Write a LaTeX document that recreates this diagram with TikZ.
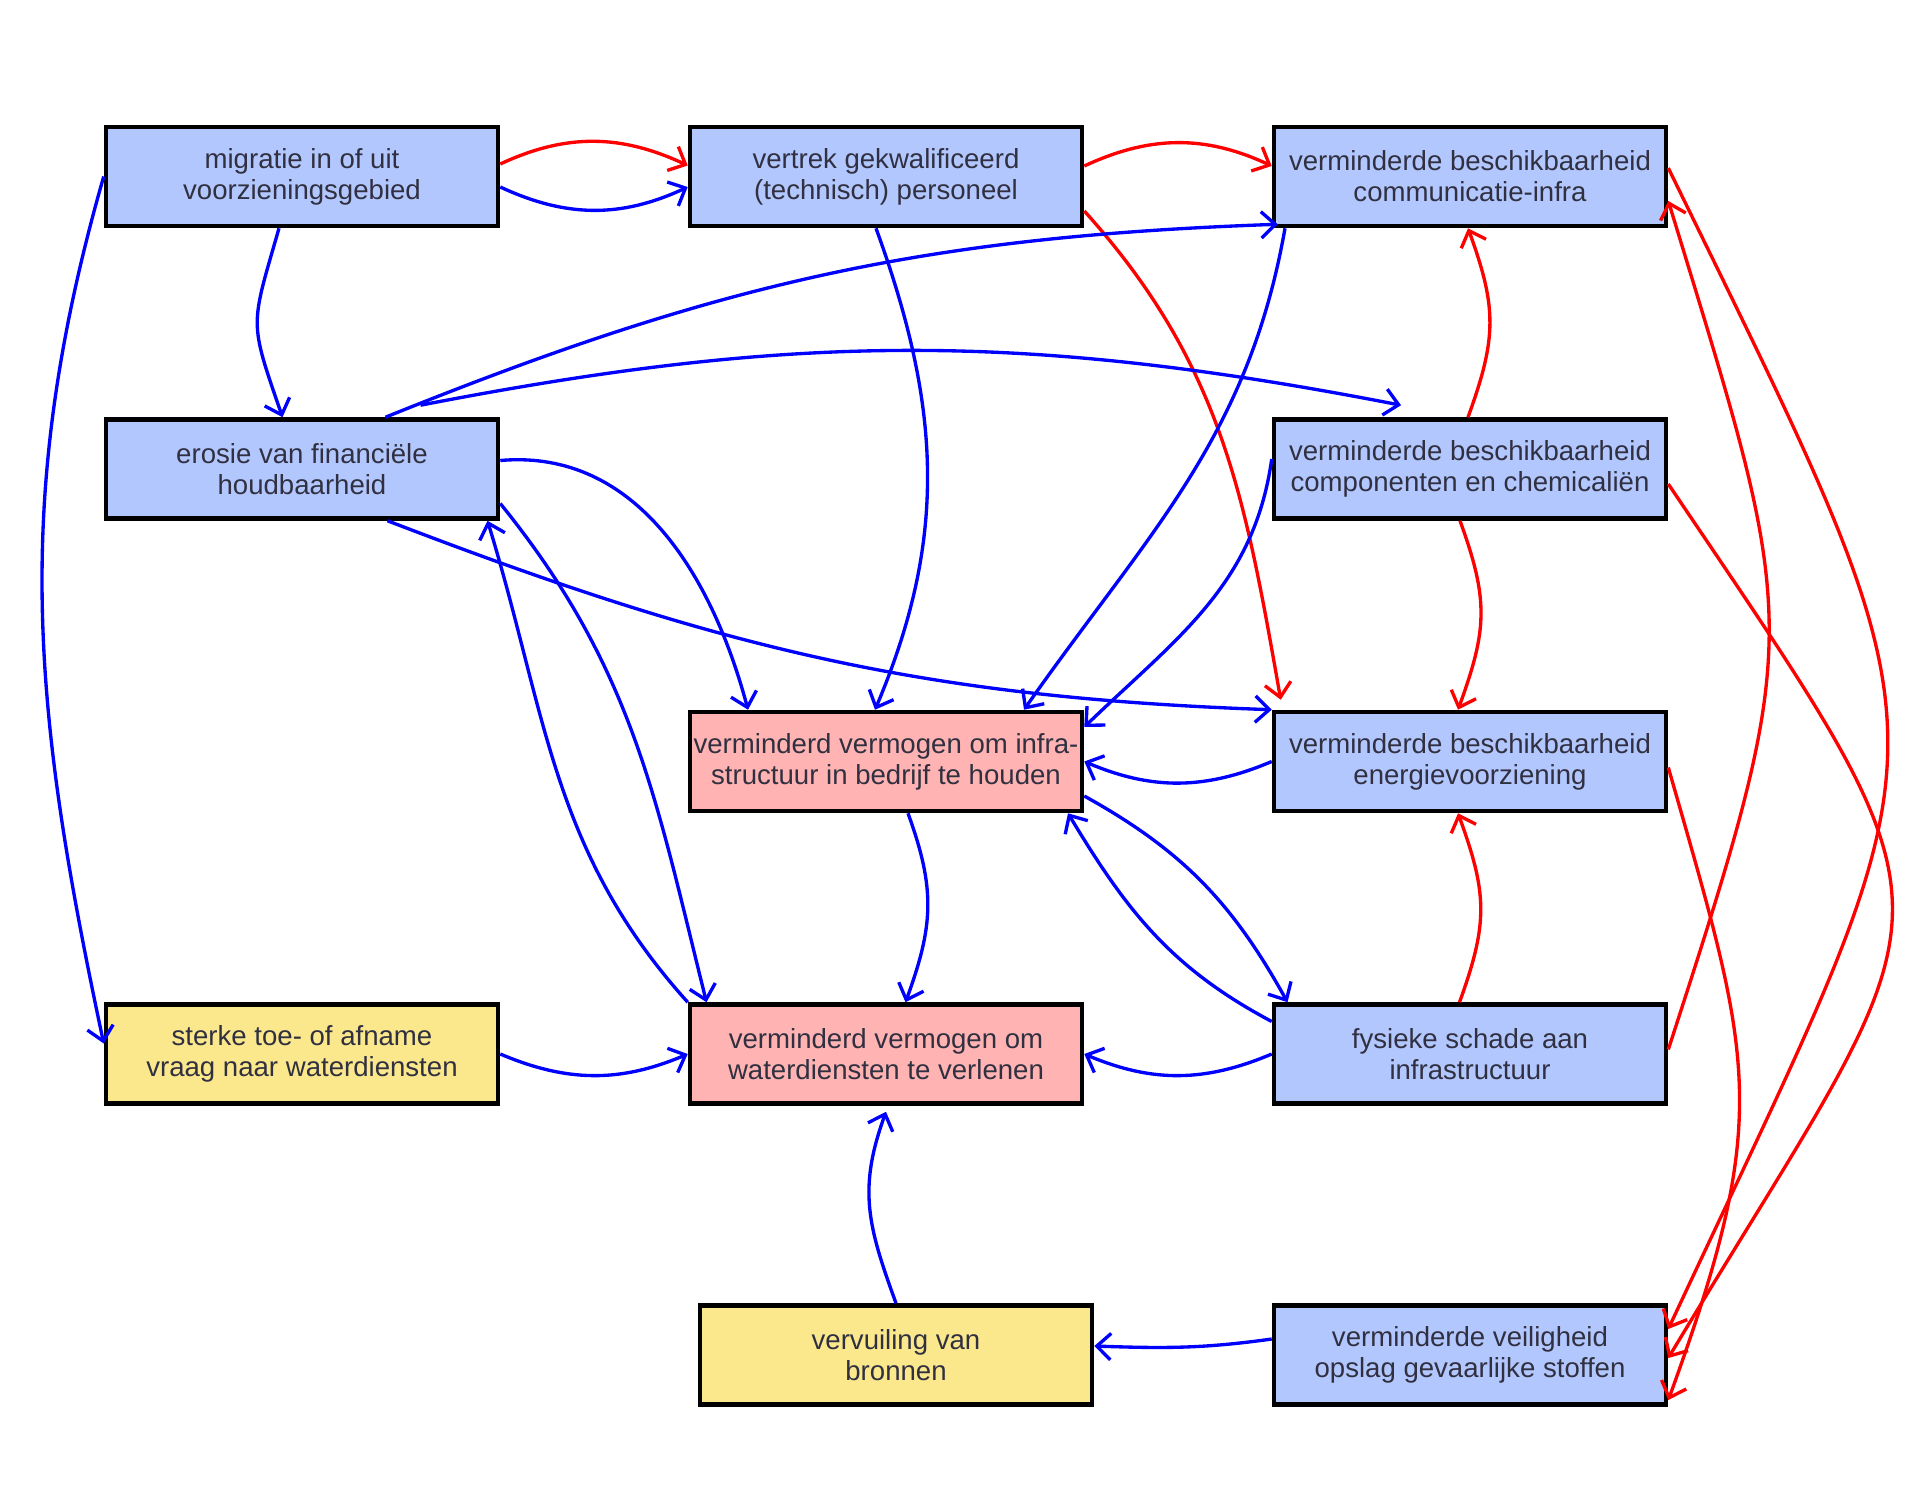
\documentclass[tikz,border=0pt]{standalone}
\usepackage{fontspec}
\setmainfont{Liberation Sans}
\usetikzlibrary{arrows.meta}
\definecolor{txtgray}{RGB}{48,48,64}
\definecolor{boxblue}{RGB}{179,199,255}
\definecolor{boxpink}{RGB}{255,179,179}
\definecolor{boxyellow}{RGB}{251,232,140}
\begin{document}
\begin{tikzpicture}[node distance=5.85cm,
    >={Straight Barb[length=8pt,width=15pt]},
    blok/.style={draw, rectangle, line width=2.6pt, minimum width=7.84cm, minimum height=1.98cm, inner sep=1pt, align=center, text=txtgray, font=\fontsize{15.7}{17.6}\selectfont},
    blauw/.style={blok, fill=boxblue},
    roze/.style={blok, fill=boxpink},
    geel/.style={blok, fill=boxyellow},
    redlink/.style={->, red, line width=1.9pt},
    bluelink/.style={->, blue, line width=1.9pt}]
        \useasboundingbox (0,0) rectangle (38.6,-29.94);
        \node[blauw] (mig) at (6.04,-3.53) {migratie in of uit\\voorzieningsgebied};
        \node[blauw, right of=mig, xshift=5.83cm] (vert) {vertrek gekwalificeerd\\(technisch) personeel};
        \node[blauw, right of=vert, xshift=5.83cm] (comm) {verminderde beschikbaarheid\\communicatie-infra};
        \node[blauw, below of=mig] (eros) {erosie van financiële\\houdbaarheid};
        \node[blauw, below of=comm] (comp) {verminderde beschikbaarheid\\componenten en chemicaliën};
        \node[roze, below of=vert, yshift=-5.85cm] (infra) {verminderd vermogen om infra-\\structuur in bedrijf te houden};
        \node[blauw, below of=comp] (ene) {verminderde beschikbaarheid\\energievoorziening};
        \node[geel, below of=eros, yshift=-5.85cm] (vraag) {sterke toe- of afname\\vraag naar waterdiensten};
        \node[roze, below of=infra] (water) {verminderd vermogen om\\waterdiensten te verlenen};
        \node[blauw, below of=ene] (fys) {fysieke schade aan\\infrastructuur};
        \node[geel, below of=water, xshift=0.2cm, yshift=-0.17cm] (vervuil) {vervuiling van\\bronnen};
        \node[blauw, below of=fys, yshift=-0.17cm] (veil) {verminderde veiligheid\\opslag gevaarlijke stoffen};

        \draw[redlink] ([yshift=0.25cm]mig.east) to[out=25,in=155] ([yshift=0.22cm]vert.west);
        \draw[redlink] ([yshift=0.21cm]vert.east) to[out=25,in=155] ([yshift=0.21cm]comm.west);
        \draw[redlink] ([yshift=-0.69cm]vert.east) to[out=-48,in=100] ([xshift=0.18cm,yshift=0.2cm]ene.north west);
        \draw[redlink] ([xshift=-0.04cm]comp.north) to[out=70,in=-70,looseness=1.15] ([xshift=-0.04cm]comm.south);
        \draw[redlink] ([xshift=-0.2cm]comp.south) to[out=-70,in=70,looseness=1.15] ([xshift=-0.24cm]ene.north);
        \draw[redlink] ([xshift=-0.21cm]fys.north) to[out=70,in=-70,looseness=1.15] ([xshift=-0.24cm]ene.south);
        \draw[redlink] ([yshift=0.17cm]comm.east) to[out=-64,in=65,looseness=1.5] ([yshift=0.52cm]veil.east);
        \draw[redlink] ([yshift=-0.3cm]comp.east) to[out=-56,in=59,looseness=1.63] ([yshift=-0.06cm]veil.east);
        \draw[redlink] ([yshift=0.09cm]fys.east) to[out=72,in=-73,looseness=1.35] ([yshift=-0.49cm]comm.east);
        \draw[redlink] ([yshift=-0.12cm]ene.east) to[out=-74,in=70,looseness=1.24] ([yshift=-0.9cm]veil.east);

        \draw[bluelink] ([yshift=-0.21cm]mig.east) to[out=-25,in=205] ([yshift=-0.21cm]vert.west);
        \draw[bluelink] (mig.west) to[out=-106,in=102] ([yshift=0.21cm]vraag.west);
        \draw[bluelink] ([xshift=-0.46cm]mig.south) to[out=-106,in=109,looseness=1.4] ([xshift=-0.39cm]eros.north);
        \draw[bluelink] ([xshift=-0.2cm]vert.south) to[out=-70,in=67] ([xshift=-0.22cm]infra.north);
        \draw[bluelink] ([xshift=1.67cm]eros.north) to[out=22,in=182] ([xshift=0.12cm,yshift=0.08cm]comm.south west);
        \draw[bluelink] ([xshift=2.37cm,yshift=0.24cm]eros.north) to[out=11,in=169] ([xshift=-1.38cm,yshift=0.24cm]comp.north);
        \draw[bluelink] ([yshift=0.17cm]eros.east) to[out=5,in=105] ([xshift=-2.76cm]infra.north);
        \draw[bluelink] ([yshift=-0.69cm]eros.east) to[out=-51,in=104] ([xshift=-3.59cm]water.north);
        \draw[bluelink] (water.north west) to[out=132,in=-73] ([xshift=3.71cm]eros.south);
        \draw[bluelink] ([xshift=1.71cm]eros.south) to[out=-21,in=178] (ene.north west);
        \draw[bluelink] ([xshift=-3.7cm]comm.south) to[out=-100,in=55] ([xshift=2.76cm]infra.north);
        \draw[bluelink] ([yshift=0.2cm]comp.west) to[out=-98,in=44] ([yshift=0.69cm]infra.east);
        \draw[bluelink] (ene.west) to[out=203,in=-23] (infra.east);
        \draw[bluelink] ([yshift=-0.69cm]infra.east) to[out=-29,in=119] ([xshift=-3.65cm]fys.north);
        \draw[bluelink] ([yshift=0.65cm]fys.west) to[out=152,in=-59] ([xshift=3.64cm]infra.south);
        \draw[bluelink] ([xshift=0.44cm]infra.south) to[out=-70,in=70,looseness=1.1] ([xshift=0.39cm]water.north);
        \draw[bluelink] (fys.west) to[out=203,in=-23] (water.east);
        \draw[bluelink] (vraag.east) to[out=-23,in=203] (water.west);
        \draw[bluelink] (vervuil.north) to[out=110,in=-110,looseness=1.1] ([yshift=-0.12cm]water.south);
        \draw[bluelink] ([yshift=0.32cm]veil.west) to[out=188,in=-2] ([yshift=0.18cm]vervuil.east);
    \end{tikzpicture}
\end{document}
